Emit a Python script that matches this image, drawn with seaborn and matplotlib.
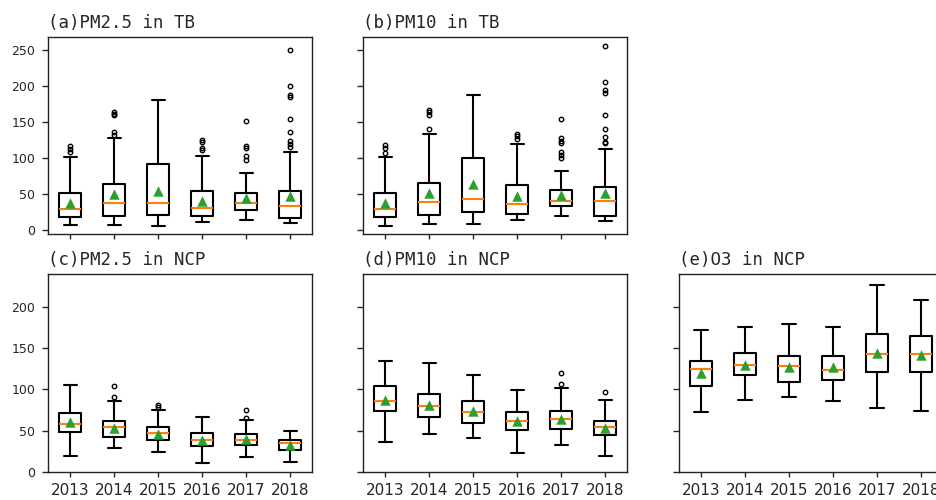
import numpy as np
import matplotlib
matplotlib.use("Agg")
import matplotlib.pyplot as plt
import seaborn as sns

years = ['2013', '2014', '2015', '2016', '2017', '2018']

# (a) PM2.5 in TB
pm25_tb_lo = [6, 6.5, 5.5, 10.5, 13.5, 9.5]
pm25_tb_q1 = [17.5, 19.5, 20.5, 18.5, 28, 16]
pm25_tb_med = [29, 37.5, 37.5, 29.5, 36.5, 32.5]
pm25_tb_q3 = [51, 64, 91, 54.5, 51.5, 54.5]
pm25_tb_hi = [101, 127.5, 180.5, 102, 78.5, 108.5]
pm25_tb_mean = [36.5, 50, 54.5, 40.5, 44, 47.5]
pm25_tb_fliers = [[108, 112, 116], [132, 136, 159, 161, 164], [],
                  [111, 114, 122, 125], [97, 103, 114, 117, 151],
                  [115, 119, 123, 136, 154, 185, 187, 200, 250]]

# (b) PM10 in TB
pm10_tb_lo = [5.5, 7.5, 8.5, 13, 19.5, 12.5]
pm10_tb_q1 = [17, 20, 25, 22.5, 33.5, 19.5]
pm10_tb_med = [29, 38, 42.5, 36, 40.5, 39.5]
pm10_tb_q3 = [51, 65.5, 99.5, 62, 55, 59.5]
pm10_tb_hi = [100.5, 132.5, 188, 119.5, 81.5, 112.5]
pm10_tb_mean = [36.5, 50.5, 63.5, 46.5, 48, 51.5]
pm10_tb_fliers = [[107, 113, 118], [140, 160, 164, 166.5], [],
                  [126, 130, 133.5], [100, 104, 108, 120, 123, 127, 153.5],
                  [120, 121.5, 129.5, 140.5, 160, 190, 195, 206, 256]]

# (c) PM2.5 in NCP
pm25_ncp_lo = [19, 28.5, 24.5, 10, 18, 11.5]
pm25_ncp_q1 = [48.5, 42, 39, 31.5, 32, 26]
pm25_ncp_med = [58.5, 54.5, 47, 38.5, 38.5, 34.5]
pm25_ncp_q3 = [71.5, 62, 54.5, 47.5, 45.5, 38]
pm25_ncp_hi = [105, 86, 75, 66.5, 63, 49]
pm25_ncp_mean = [60, 53.5, 46, 38.5, 39.5, 32.5]
pm25_ncp_fliers = [[], [90.5, 104], [78.5, 80.5], [], [65, 74.5], []]

# (d) PM10 in NCP
pm10_ncp_lo = [36.5, 45.5, 40.5, 22.5, 32.5, 19.5]
pm10_ncp_q1 = [73.5, 67, 59.5, 51, 52, 45]
pm10_ncp_med = [86.5, 80, 72.5, 62, 63.5, 54]
pm10_ncp_q3 = [104, 94, 86, 72.5, 73.5, 62]
pm10_ncp_hi = [134.5, 132.5, 117, 99.5, 102, 87]
pm10_ncp_mean = [87.5, 81.5, 74, 62, 64.5, 53]
pm10_ncp_fliers = [[], [], [], [], [106.5, 120], [97]]

# (e) O3 in NCP
o3_ncp_lo = [72, 87, 91, 85.5, 78, 73.5]
o3_ncp_q1 = [104, 117, 109.5, 111, 121, 121]
o3_ncp_med = [124.5, 129.5, 128, 124, 142.5, 143.5]
o3_ncp_q3 = [134, 144, 141, 141, 167, 164.5]
o3_ncp_hi = [172, 176.5, 179, 175.5, 227, 209]
o3_ncp_mean = [120, 130, 127.5, 127, 144, 142]
o3_ncp_fliers = [[], [], [], [], [], []]

sns.set_style("ticks")
plt.rcParams['font.family'] = ['DejaVu Sans']
plt.rcParams['axes.linewidth'] = 1.0
plt.rcParams['axes.edgecolor'] = '#222222'

W, H = 936, 500
fig = plt.figure(figsize=(W / 100, H / 100), dpi=100)


def pix_axes(left, top, right, bottom):
    return fig.add_axes([left / W, 1 - bottom / H, (right - left) / W, (bottom - top) / H])


def draw_panel(ax, lo, q1, med, q3, hi, mean, fliers, title, ylim, yticks, show_x, show_y):
    stats = [dict(whislo=a, q1=b, med=c, q3=d, whishi=e, fliers=f)
             for a, b, c, d, e, f in zip(lo, q1, med, q3, hi, fliers)]
    line = dict(color='black', linewidth=1.5)
    ax.bxp(stats, positions=range(len(years)), widths=0.5, capwidths=0.3,
           manage_ticks=False, boxprops=line, whiskerprops=line, capprops=line,
           medianprops=dict(color='#ff7f0e', linewidth=1.5),
           flierprops=dict(marker='o', markerfacecolor='none', markeredgecolor='black',
                           markersize=3.2, markeredgewidth=1.0))
    sns.stripplot(x=years, y=mean, jitter=False, marker='^', size=7.5,
                  color='#2ca02c', linewidth=0, zorder=3, ax=ax)
    ax.set_xlim(-0.5, len(years) - 0.5)
    ax.set_ylim(*ylim)
    ax.set_yticks(yticks)
    ax.set_xlabel('')
    ax.set_ylabel('')
    ax.tick_params(axis='y', length=4, width=1, pad=5.5, labelsize=9, labelleft=show_y)
    ax.tick_params(axis='x', length=3.5, width=1, pad=4.5, labelsize=11, labelbottom=show_x)
    for s in ax.spines.values():
        s.set_visible(True)
    ax.set_title(title, loc='left', pad=6.5, fontsize=12.5, family='DejaVu Sans Mono')


top_lim = (-6, 268.5)
bot_lim = (0, 240)
top_ticks = [0, 50, 100, 150, 200, 250]
bot_ticks = [0, 50, 100, 150, 200]

ax_a = pix_axes(48.3, 36.7, 312.3, 234)
ax_b = pix_axes(363.3, 36.7, 627.3, 234)
ax_c = pix_axes(48.3, 274.3, 312.3, 471.7)
ax_d = pix_axes(363.3, 274.3, 627.3, 471.7)
ax_e = pix_axes(679, 274.3, 943, 471.7)

draw_panel(ax_a, pm25_tb_lo, pm25_tb_q1, pm25_tb_med, pm25_tb_q3, pm25_tb_hi,
           pm25_tb_mean, pm25_tb_fliers, '(a)PM2.5 in TB', top_lim, top_ticks, False, True)
draw_panel(ax_b, pm10_tb_lo, pm10_tb_q1, pm10_tb_med, pm10_tb_q3, pm10_tb_hi,
           pm10_tb_mean, pm10_tb_fliers, '(b)PM10 in TB', top_lim, top_ticks, False, False)
draw_panel(ax_c, pm25_ncp_lo, pm25_ncp_q1, pm25_ncp_med, pm25_ncp_q3, pm25_ncp_hi,
           pm25_ncp_mean, pm25_ncp_fliers, '(c)PM2.5 in NCP', bot_lim, bot_ticks, True, True)
draw_panel(ax_d, pm10_ncp_lo, pm10_ncp_q1, pm10_ncp_med, pm10_ncp_q3, pm10_ncp_hi,
           pm10_ncp_mean, pm10_ncp_fliers, '(d)PM10 in NCP', bot_lim, bot_ticks, True, False)
draw_panel(ax_e, o3_ncp_lo, o3_ncp_q1, o3_ncp_med, o3_ncp_q3, o3_ncp_hi,
           o3_ncp_mean, o3_ncp_fliers, '(e)O3 in NCP', bot_lim, bot_ticks, True, False)

fig.savefig('out.png', dpi=100)
